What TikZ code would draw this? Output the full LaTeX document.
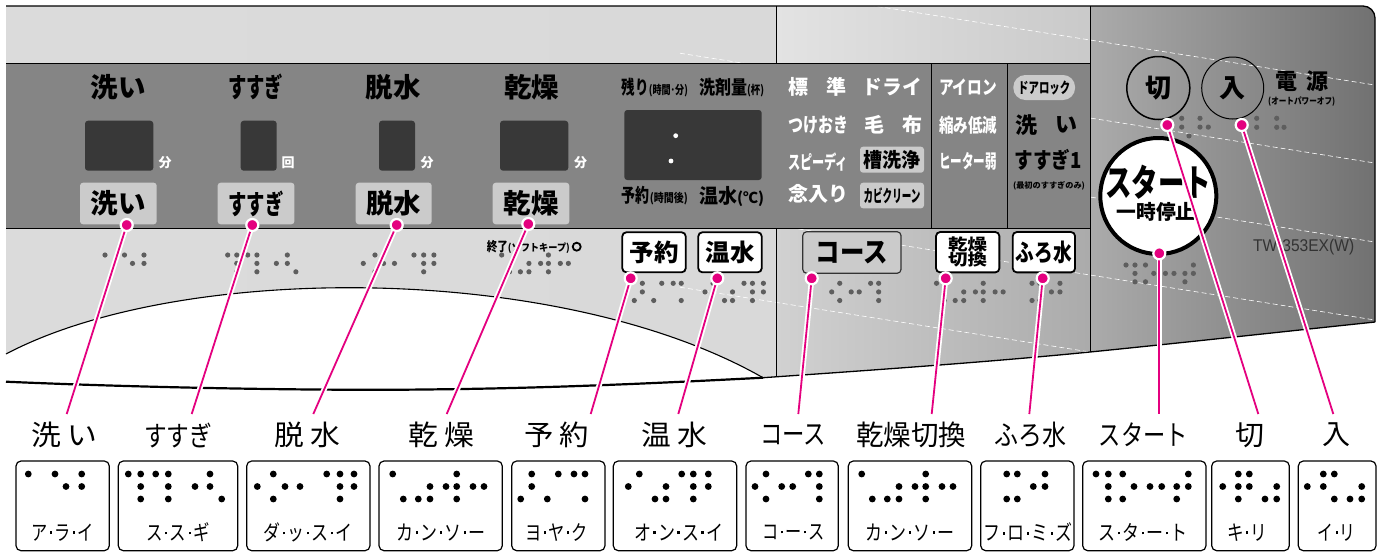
\documentclass[tikz,border=0pt]{standalone}
\usepackage{fontspec}
\usepackage{graphicx}
\newfontfamily\jp{Noto Sans CJK JP}
\newfontfamily\lsans{Liberation Sans}
\newcommand\fw[2]{\resizebox{#1}{\height}{#2}}
\newcommand\fsz[1]{\fontsize{#1}{#1}\selectfont}
\newcommand\md{\hspace{3pt}\raisebox{0.3em}{\rule{0.13em}{0.13em}}\hspace{3pt}}
\definecolor{pinkc}{HTML}{E4007F}
\definecolor{bandc}{HTML}{858585}
\definecolor{dispc}{HTML}{383838}
\definecolor{btnc}{HTML}{CBCBCB}
\definecolor{dotg}{HTML}{5E5E5E}
\newcommand\brl[7]{\foreach \dx/\rr in #7 {\fill[#6] ({#1+#3*\dx},{#2+#4*\rr}) circle[radius=#5pt];}}
\def\PA{0/0,26.7/0,53.4/0,37.7/1,53.4/1}
\def\PB{0/0,12.4/0,27.4/0,40/0,81.7/0,12.4/1,40/1,66.7/1,81.7/1,12.4/2,40/2,93.4/2}
\def\PC{16/0,69.4/0,82.7/0,96.7/0,0/1,27.7/1,42.7/1,82.7/1,96.7/1,16/2,82.7/2}
\def\PD{0/0,64/0,37.3/1,53.3/1,64/1,80.3/1,91.3/1,10.6/2,25.6/2,37.3/2,64/2}
\def\PE{11/0,37.6/0,53.3/0,64.3/0,11/1,0/2,26.6/2,64.3/2}
\def\PF{11/0,53.4/0,65/0,80/0,0/1,37.7/1,65/1,80/1,26.7/2,37.7/2,65/2}
\def\PG{11/0,53.3/0,64.3/0,0/1,26.7/1,37.7/1,64.3/1,11/2,64.3/2}
\def\PI{0/0,10.6/0,38.3/0,26.6/1,38.3/1,0/2,10.6/2}
\def\PJ{0/0,12.3/0,26.7/0,92.3/0,12.3/1,38/1,54/1,65.7/1,80.7/1,92.3/1,12.3/2,26.7/2,80.7/2}
\def\PK{15.6/0,26.6/0,0/1,15.6/1,26.6/1,54/1,15.6/2,42.3/2,54/2}
\def\PL{16/0,27/0,0/1,16/1,54.4/1,27/2,42.7/2,54.4/2}
\def\PKp{8.3/0,26.6/0,8.3/1,26.6/1,34.9/1,15.6/2}
\def\PLp{0/0,20/0,0/1,20/1,27.3/1}
\begin{document}
\begin{tikzpicture}[x=1pt,y=-1pt,
  tx/.style={inner sep=0pt, font=\jp\bfseries},
  wt/.style={tx, text=white},
  btn/.style={tx, fill=btnc, rounded corners=3pt},
  wbtn/.style={tx, fill=white, draw=black, line width=1.8pt, rounded corners=4pt},
  disp/.style={fill=dispc, rounded corners=3pt},
  conn/.style={draw=pinkc, line width=1.8pt, preaction={draw=white, line width=5.4pt}},
  pdot/.style={circle, fill=pinkc, draw=white, line width=2.2pt, minimum size=12pt, inner sep=0pt},
  ttl/.style={inner sep=0pt, font=\jp},
  bbox/.style={draw=black, line width=1.2pt, rounded corners=5pt, minimum height=89.7pt, inner sep=0pt},
  blab/.style={inner sep=0pt, font=\jp}]
\useasboundingbox (0,0) rectangle (1383,552);
\fill[white] (0,0) rectangle (1383,552);
% ---------- panel background ----------
\begin{scope}
\clip (6,6) -- (1363,6) arc[start angle=90,end angle=0,radius=12pt] -- (1375,322)
  .. controls (1280,332) and (1180,343) .. (1090,352)
  .. controls (990,362) and (860,371) .. (763,377.7)
  .. controls (560,262) and (180,262) .. (6,354) -- cycle;
\shade[left color=black!14, middle color=black!4, right color=black!15] (6,0) rectangle (776,400);
\shade[left color=black!11, right color=black!21] (776,0) rectangle (1090,63);
\shade[left color=black!18, right color=black!33] (776,228) rectangle (1090,400);
\shade[left color=black!33, right color=black!56] (1090,0) rectangle (1380,400);
\foreach \c in {40,118,197,275,352}
  \draw[white, line width=0.6pt, dash pattern=on 5pt off 3pt] (680,{\c-0.158*410}) -- (1380,{\c+0.158*290});
\end{scope}
% band
\fill[bandc] (6,63) rectangle (1090,228);
\draw[line width=1pt] (6,63) -- (1090,63) (6,228) -- (1090,228) (931,63) -- (931,228) (1007.7,63) -- (1007.7,228);
\draw[line width=1pt] (776,6) -- (776,63) (776,228) -- (776,376.8) (1090,6) -- (1090,352);
% outlines
\draw[line width=1.3pt] (6,6) -- (1363,6) arc[start angle=90,end angle=0,radius=12pt] -- (1375,322);
\draw[line width=1.1pt] (763,377.7) .. controls (560,262) and (180,262) .. (6,354);
\draw[line width=2.2pt] (6,381.7) .. controls (150,388) and (330,391) .. (440,389.3) .. controls (560,388) and (680,382) .. (763,377.7);
\draw[line width=1.3pt] (763,377.7) .. controls (860,371) and (990,362) .. (1090,352) .. controls (1180,343) and (1280,332) .. (1375,322);
% ---------- band top labels ----------
\node[tx] (l1) at (118.3,87.3) {\fsz{27}\fw{55pt}{洗い}};
\node[tx] (l2) at (255.7,87.3) {\fsz{27}\fw{55pt}{すすぎ}};
\node[tx] (l3) at (393,87.3) {\fsz{27}\fw{55pt}{脱水}};
\node[tx] (l4) at (531.7,87.3) {\fsz{27}\fw{55pt}{乾燥}};
% displays
\fill[disp] (85,120.7) rectangle (153.3,170.7);
\fill[disp] (240.7,120.7) rectangle (276.7,170.7);
\fill[disp] (379,120.7) rectangle (415,170.7);
\fill[disp] (500,120.7) rectangle (568.3,170.7);
\fill[disp] (624.3,110) rectangle (761.7,180);
\fill[white] (675.7,135.7) circle[radius=2.4pt] (671,161) circle[radius=2.4pt];
\node[wt] (u1) at (165,163) {\fsz{13}分};
\node[wt] (u2) at (288,163) {\fsz{13}回};
\node[wt] (u3) at (427,163) {\fsz{13}分};
\node[wt] (u4) at (580.7,163) {\fsz{13}分};
% buttons in band
\node[btn, minimum width=76.7pt, minimum height=41.6pt] (bw) at (118.35,203.5) {\fsz{27}\fw{55pt}{洗い}};
\node[btn, minimum width=76.7pt, minimum height=41.6pt] (bs) at (256,203.5) {\fsz{27}\fw{55pt}{すすぎ}};
\node[btn, minimum width=76pt, minimum height=41.6pt] (bd) at (393.7,203.5) {\fsz{27}\fw{55pt}{脱水}};
\node[btn, minimum width=76.6pt, minimum height=41.6pt] (bk) at (531,203.5) {\fsz{27}\fw{55pt}{乾燥}};
% display labels
\node[tx, anchor=base west] (r1) at (621.7,94) {\fsz{19}\fw{27pt}{残り}\fsz{12}\fw{39pt}{(時間･分)}};
\node[tx, anchor=base west] (r2) at (699,94) {\fsz{19}\fw{48pt}{洗剤量}\fsz{12}\fw{17pt}{(杯)}};
\node[tx, anchor=base west] (r3) at (621.7,202.5) {\fsz{19}\fw{28pt}{予約}\fsz{12}\fw{38pt}{(時間後)}};
\node[tx, anchor=base west] (r4) at (699,203) {\fsz{20}\fw{38pt}{温水}\fsz{15}\fw{27pt}{(℃)}};
% course texts
\node[wt] (c1) at (798,87.3) {\fsz{20}標};
\node[wt] (c2) at (836.7,87.3) {\fsz{20}準};
\node[wt] (c3) at (892.3,87.3) {\fsz{20}\fw{59pt}{ドライ}};
\node[wt] (c4) at (818,125) {\fsz{20}\fw{60pt}{つけおき}};
\node[wt] (c5) at (874,125) {\fsz{20}毛};
\node[wt] (c6) at (912.5,125) {\fsz{20}布};
\node[wt] (c7) at (818,161.7) {\fsz{19}\fw{60pt}{スピーディ}};
\node[btn, minimum width=64pt, minimum height=26pt] (c8) at (892,159.7) {\fsz{20}\fw{57pt}{槽洗浄}};
\node[wt] (c9) at (818,194) {\fsz{20}\fw{60pt}{念入り}};
\node[btn, minimum width=64pt, minimum height=25.6pt] (c10) at (892,195.5) {\fsz{17}\fw{57pt}{カビクリーン}};
\node[wt] (o1) at (968,87.3) {\fsz{19}\fw{58pt}{アイロン}};
\node[wt] (o2) at (968,125) {\fsz{19}\fw{58pt}{縮み低減}};
\node[wt] (o3) at (968,161.7) {\fsz{19}\fw{58pt}{ヒーター弱}};
\node[btn, rounded corners=12pt, minimum width=61.7pt, minimum height=25pt] (o4) at (1044.2,87.5) {\fsz{15}\fw{52pt}{ドアロック}};
\node[tx] (o5) at (1026,125) {\fsz{22}洗};
\node[tx] (o6) at (1066,125) {\fsz{22}い};
\node[tx] (o7) at (1048.3,160) {\fsz{22}\fw{67pt}{すすぎ1}};
\node[tx] (o8) at (1049,185.7) {\fsz{8}\fw{72pt}{(最初のすすぎのみ)}};
% buttons below band
\node[wbtn, minimum width=63.4pt, minimum height=40pt] (by) at (654,252.3) {\fsz{24}\fw{49pt}{予約}};
\node[wbtn, minimum width=63.4pt, minimum height=40pt] (bo) at (730,252.3) {\fsz{24}\fw{49pt}{温水}};
\node[btn, draw=black!80, line width=1.2pt, rounded corners=4pt, minimum width=98.3pt, minimum height=41.6pt] (bc) at (851.9,252.5) {\fsz{28}\fw{72pt}{コース}};
\node[wbtn, minimum width=63.3pt, minimum height=40.3pt, align=center] (bx) at (967.7,252.2) {\fsz{16}\fw{39pt}{乾燥}\\[-1pt]\fsz{16}\fw{39pt}{切換}};
\node[wbtn, minimum width=62.3pt, minimum height=40.3pt] (bf) at (1043.9,252.2) {\fsz{24}\fw{56pt}{ふろ水}};
\node[tx, anchor=base west] (kp) at (486.7,251.5) {\fsz{13}\fw{21pt}{終了}\fsz{10}\fw{62pt}{(ソフトキープ)}};
\draw[line width=1.8pt] (576.7,246.7) circle[radius=4pt];
% right panel
\draw[line width=1.5pt] (1158.3,88) circle[radius=31.5pt];
\node[tx] (kiri) at (1158.3,88) {\fsz{26}切};
\draw[line width=1pt] (1232.7,88) circle[radius=31pt];
\node[tx] (iri) at (1232.7,88) {\fsz{26}入};
\node[tx] (den1) at (1286.7,81) {\fsz{22}電};
\node[tx] (den2) at (1317.5,81) {\fsz{22}源};
\node[tx] (den3) at (1301.7,101.7) {\fsz{9}\fw{67pt}{(オートパワーオフ)}};
\draw[line width=4pt, fill=white] (1158.3,196) circle[radius=58pt];
\node[tx] (st1) at (1158.3,182) {\fsz{37}\fw{106pt}{スタート}};
\node[tx] (st2) at (1156,212) {\fsz{20}\fw{79pt}{一時停止}};
\node[inner sep=0pt, font=\lsans, text=black!80] (model) at (1303.7,246.7) {\fsz{17}\fw{101pt}{TW-353EX(W)}};
% panel braille
\brl{105}{255}{0.73}{8.4}{2.6}{dotg}{\PA}
\brl{227.7}{255}{0.73}{8.4}{2.6}{dotg}{\PB}
\brl{363.3}{255}{0.73}{8.4}{2.6}{dotg}{\PC}
\brl{501.7}{255}{0.73}{8.4}{2.6}{dotg}{\PD}
\brl{634.3}{283.3}{0.73}{8.6}{2.6}{dotg}{\PE}
\brl{705}{283.3}{0.73}{8.6}{2.6}{dotg}{\PF}
\brl{831.7}{283.3}{0.73}{8.6}{2.6}{dotg}{\PG}
\brl{936.5}{283.3}{0.73}{8.6}{2.6}{dotg}{\PD}
\brl{1032}{283.3}{0.73}{8.6}{2.6}{dotg}{\PI}
\brl{1126}{265}{0.73}{8.4}{2.6}{dotg}{\PJ}
\brl{1173.4}{118.3}{1}{8.8}{2.6}{dotg}{\PKp}
\brl{1256.7}{118.3}{1}{9}{2.6}{dotg}{\PLp}
% ---------- connectors ----------
\coordinate (s1) at (126.7,225);   \coordinate (e1) at (66.7,414);
\coordinate (s2) at (252.3,225);   \coordinate (e2) at (191.7,414);
\coordinate (s3) at (396.7,225);   \coordinate (e3) at (313.3,414);
\coordinate (s4) at (528.3,224);   \coordinate (e4) at (446.7,414);
\coordinate (s5) at (630.7,278.3); \coordinate (e5) at (590.7,414);
\coordinate (s6) at (717.3,278.3); \coordinate (e6) at (678.3,414);
\coordinate (s7) at (811.7,278.3); \coordinate (e7) at (798.3,414);
\coordinate (s8) at (945.7,278.3); \coordinate (e8) at (931.7,414);
\coordinate (s9) at (1042.7,278.3);\coordinate (e9) at (1029.3,414);
\coordinate (s10) at (1159.3,253.3);\coordinate (e10) at (1159.3,414);
\coordinate (s11) at (1167.3,125); \coordinate (e11) at (1258.3,414);
\coordinate (s12) at (1241.7,125); \coordinate (e12) at (1333.3,414);
\foreach \i in {1,...,12} \draw[conn] (s\i) -- (e\i);
\foreach \i in {1,...,12} \node[pdot] (d\i) at (s\i) {};
% ---------- bottom titles ----------
\node[ttl] (t1) at (64,435) {\fsz{28}\fw{66pt}{洗\hspace{6pt}い}};
\node[ttl] (t2) at (178.3,435) {\fsz{28}\fw{68pt}{すすぎ}};
\node[ttl] (t3) at (307.5,435) {\fsz{28}\fw{66pt}{脱\hspace{6pt}水}};
\node[ttl] (t4) at (441,435) {\fsz{28}\fw{66pt}{乾\hspace{6pt}燥}};
\node[ttl] (t5) at (556.7,435) {\fsz{28}\fw{65pt}{予\hspace{6pt}約}};
\node[ttl] (t6) at (674.2,435) {\fsz{28}\fw{66pt}{温\hspace{6pt}水}};
\node[ttl] (t7) at (793,435) {\fsz{28}\fw{66pt}{コース}};
\node[ttl] (t8) at (911,435) {\fsz{28}\fw{110pt}{乾燥切換}};
\node[ttl] (t9) at (1030,435) {\fsz{28}\fw{72pt}{ふろ水}};
\node[ttl] (t10) at (1143.3,435) {\fsz{28}\fw{89pt}{スタート}};
\node[ttl] (t11) at (1249.7,435) {\fsz{28}\fw{29pt}{切}};
\node[ttl] (t12) at (1336.3,435) {\fsz{28}\fw{28pt}{入}};
% ---------- bottom boxes ----------
\node[bbox, minimum width=93.3pt] (b1) at (62.65,505.85) {};
\node[bbox, minimum width=119.4pt] (b2) at (178,505.85) {};
\node[bbox, minimum width=123.3pt] (b3) at (308.35,505.85) {};
\node[bbox, minimum width=123.3pt] (b4) at (440.65,505.85) {};
\node[bbox, minimum width=93.3pt] (b5) at (558.35,505.85) {};
\node[bbox, minimum width=123.4pt] (b6) at (675,505.85) {};
\node[bbox, minimum width=92.3pt] (b7) at (792.15,505.85) {};
\node[bbox, minimum width=123.4pt] (b8) at (910,505.85) {};
\node[bbox, minimum width=93.3pt] (b9) at (1027.35,505.85) {};
\node[bbox, minimum width=123.3pt] (b10) at (1144.35,505.85) {};
\node[bbox, minimum width=77.6pt] (b11) at (1250.5,505.85) {};
\node[bbox, minimum width=77.7pt] (b12) at (1337.15,505.85) {};
\brl{28.3}{474}{1}{12.5}{3.4}{black}{\PA}
\brl{128.3}{474}{1}{12.5}{3.4}{black}{\PB}
\brl{257.3}{474}{1}{12.5}{3.4}{black}{\PC}
\brl{392.7}{474}{1}{12.5}{3.4}{black}{\PD}
\brl{520.7}{474}{1}{12.5}{3.4}{black}{\PE}
\brl{628.3}{474}{1}{12.5}{3.4}{black}{\PF}
\brl{755}{474}{1}{12.5}{3.4}{black}{\PG}
\brl{861.7}{474}{1}{12.5}{3.4}{black}{\PD}
\brl{1006.7}{474}{1}{12.5}{3.4}{black}{\PI}
\brl{1096}{474}{1}{12.5}{3.4}{black}{\PJ}
\brl{1222.7}{474}{1}{12.5}{3.4}{black}{\PK}
\brl{1307.3}{474}{1}{12.5}{3.4}{black}{\PL}
\node[blab] (k1) at (62.65,532.5) {\fsz{21}\fw{62pt}{ア\md ラ\md イ}};
\node[blab] (k2) at (178,532.5) {\fsz{21}\fw{63pt}{ス\md ス\md ギ}};
\node[blab] (k3) at (308.35,532.5) {\fsz{21}\fw{89pt}{ダ\md ッ\md ス\md イ}};
\node[blab] (k4) at (440.65,532.5) {\fsz{21}\fw{89pt}{カ\md ン\md ソ\md ー}};
\node[blab] (k5) at (556.5,532.5) {\fsz{21}\fw{62pt}{ヨ\md ヤ\md ク}};
\node[blab] (k6) at (678.5,532.5) {\fsz{21}\fw{89pt}{オ\md ン\md ス\md イ}};
\node[blab] (k7) at (793.3,532.5) {\fsz{21}\fw{62pt}{コ\md ー\md ス}};
\node[blab] (k8) at (910,532.5) {\fsz{21}\fw{89pt}{カ\md ン\md ソ\md ー}};
\node[blab] (k9) at (1028.3,532.5) {\fsz{21}\fw{89pt}{フ\md ロ\md ミ\md ズ}};
\node[blab] (k10) at (1143.3,532.5) {\fsz{21}\fw{89pt}{ス\md タ\md ー\md ト}};
\node[blab] (k11) at (1247.3,532.5) {\fsz{21}\fw{40pt}{キ\md リ}};
\node[blab] (k12) at (1336.7,532.5) {\fsz{21}\fw{38pt}{イ\md リ}};
\end{tikzpicture}
\end{document}
